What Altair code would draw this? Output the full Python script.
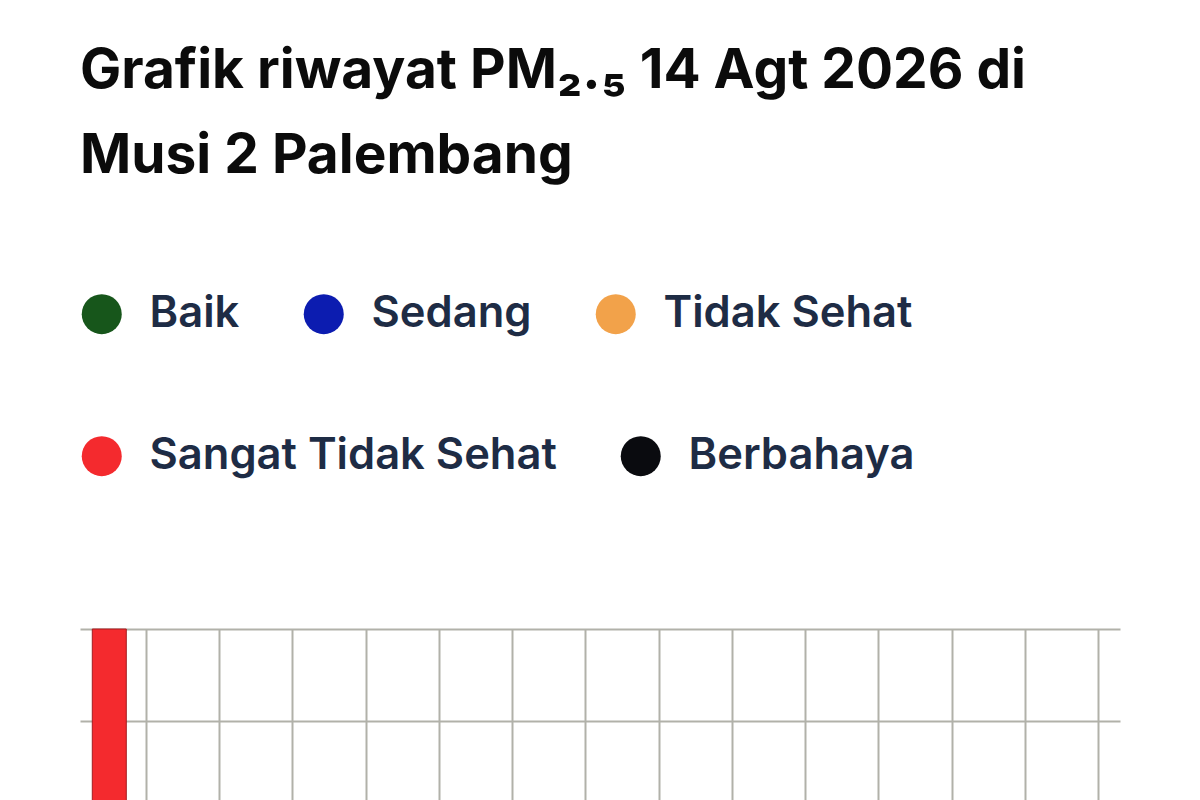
import altair as alt
import pandas as pd

# Categories of the PM2.5 index and their colours (legend rows as in the app)
kategori_baris1 = ["Baik", "Sedang", "Tidak Sehat"]
warna_baris1 = ["#17561b", "#0c1cb0", "#f2a24a"]
kategori_baris2 = ["Sangat Tidak Sehat", "Berbahaya"]
warna_baris2 = ["#f42a2e", "#0a0b0f"]

# Hourly readings (only the first hour is available)
jam = [0.5]
pm25 = [160]
kategori_jam = ["Sangat Tidak Sehat"]

# Axis ticks
tick_jam = list(range(1, 15))
tick_pm = [0, 20, 40, 60, 80, 100, 120, 140, 160]

df = pd.DataFrame({"jam": jam, "pm25": pm25, "kategori": kategori_jam})

GRID = "#b1b1a9"

x_enc = alt.X(
    "jam:Q",
    scale=alt.Scale(domain=[0.1, 14.3], nice=False, zero=False, padding=0),
    axis=alt.Axis(values=tick_jam, grid=True, title=None, domain=False,
                  ticks=False, labels=False,
                  gridColor=GRID, gridWidth=2, gridOpacity=1),
)
y_enc = alt.Y(
    "pm25:Q",
    scale=alt.Scale(domain=[0, 160], nice=False, padding=0),
    axis=alt.Axis(values=tick_pm, grid=True, title=None, domain=False,
                  ticks=False, labels=False,
                  gridColor=GRID, gridWidth=2, gridOpacity=1),
)


def legenda(y):
    return alt.Legend(
        title=None,
        orient="none",
        legendX=0,
        legendY=y,
        direction="horizontal",
        symbolType="circle",
        symbolSize=1600,
        symbolStrokeWidth=0,
        symbolOpacity=1,
        labelFont="Inter",
        labelFontSize=43.5,
        labelFontWeight=600,
        labelColor="#1e2c45",
        labelOffset=26,
        labelLimit=0,
        columnPadding=62,
        padding=0,
    )


baris1 = (
    alt.Chart(df)
    .transform_filter("false")
    .mark_circle()
    .encode(
        x=x_enc,
        y=y_enc,
        color=alt.Color("kategori:N",
                        scale=alt.Scale(domain=kategori_baris1, range=warna_baris1),
                        legend=legenda(-337)),
    )
)

batang = (
    alt.Chart(df)
    .mark_bar(size=34, stroke="#a31c1f", strokeWidth=1)
    .encode(
        x=x_enc,
        y=y_enc,
        color=alt.Color("kategori:N",
                        scale=alt.Scale(domain=kategori_baris2, range=warna_baris2),
                        legend=legenda(-195)),
    )
)

chart = (
    alt.layer(baris1, batang)
    .resolve_scale(color="independent")
    .properties(
        width=1040,
        height=736,
        view=alt.ViewBackground(stroke="transparent", strokeWidth=0),
        padding={"left": 72, "top": 36, "right": 20, "bottom": 20},
        title=alt.Title(
            ["Grafik riwayat PM₂.₅ 14 Agt 2026 di", "Musi 2 Palembang"],
            anchor="start",
            font="Inter",
            fontSize=55,
            fontWeight="bold",
            color="#0b0b0b",
            lineHeight=85,
            offset=107,
        ),
    )
    .configure_view(stroke="transparent", strokeWidth=0)
    .configure_axis(domain=False, ticks=False)
    .configure(background="white")
)

chart.save("out.html", embed_options={"renderer": "svg", "actions": False})
